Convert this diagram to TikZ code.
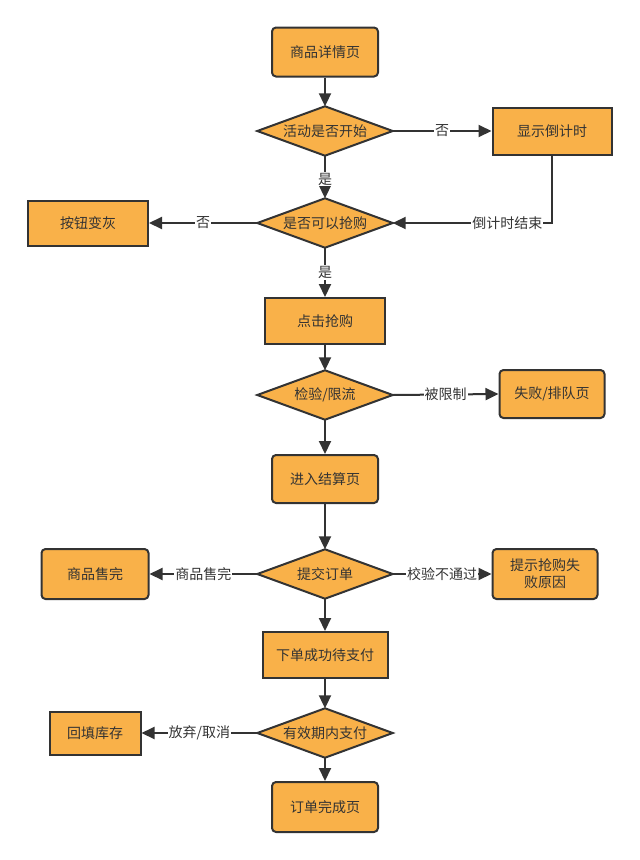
\documentclass[tikz,border=0pt]{standalone}
\usepackage{fontspec}
\setmainfont{Noto Sans CJK SC}
\usetikzlibrary{arrows.meta,backgrounds}
\definecolor{boxfill}{HTML}{F9B149}
\definecolor{ink}{HTML}{333333}
\tikzset{
  base/.style={fill=boxfill,draw=ink,line width=2pt,text=ink,font=\fontsize{14pt}{17pt}\selectfont,inner sep=2pt,align=center},
  rbox/.style={base,rounded corners=4pt},
  sbox/.style={base},
  dia/.style={inner sep=0pt,text=ink,font=\fontsize{14pt}{17pt}\selectfont,minimum width=135pt,minimum height=49pt},
  diashape/.style={fill=boxfill,draw=ink,line width=2pt,line join=miter},
  conn/.style={draw=ink,line width=2pt,-{Triangle[length=13pt,width=12pt]}},
  lbl/.style={fill=white,text=ink,font=\fontsize{14pt}{17pt}\selectfont,inner sep=1pt}
}
\begin{document}
\begin{tikzpicture}[x=1pt,y=-1pt]
\useasboundingbox (0,0) rectangle (640,860);
% boxes
\node[rbox,minimum width=106pt,minimum height=49pt] (n1) at (325,52) {商品详情页};
\node[sbox,minimum width=119pt,minimum height=47pt] (show) at (552,131) {显示倒计时};
\node[sbox,minimum width=120pt,minimum height=45pt] (gray) at (88,223) {按钮变灰};
\node[sbox,minimum width=120pt,minimum height=46pt] (click) at (325,321) {点击抢购};
\node[rbox,minimum width=105pt,minimum height=48pt] (fail) at (552,394) {失败/排队页};
\node[rbox,minimum width=106pt,minimum height=48pt] (settle) at (325,479) {进入结算页};
\node[rbox,minimum width=107pt,minimum height=50pt] (sold) at (95,574) {商品售完};
\node[rbox,minimum width=105pt,minimum height=50pt,text width=80pt,inner sep=0pt] (tip) at (545,574) {提示抢购失\\败原因};
\node[sbox,minimum width=125pt,minimum height=46pt] (pay) at (325,655) {下单成功待支付};
\node[sbox,minimum width=91pt,minimum height=43pt] (refill) at (95,733) {回填库存};
\node[rbox,minimum width=106pt,minimum height=50pt] (done) at (325,807) {订单完成页};
% diamonds
\node[dia] (d1) at (325,131) {活动是否开始};
\node[dia] (d2) at (325,223) {是否可以抢购};
\node[dia] (d3) at (325,395) {检验/限流};
\node[dia] (d4) at (325,574) {提交订单};
\node[dia] (d5) at (325,733) {有效期内支付};
\begin{scope}[on background layer]
\foreach \d in {d1,d2,d3,d4,d5}{
  \path[diashape] (\d.north) -- (\d.east) -- (\d.south) -- (\d.west) -- cycle;
}
\end{scope}
% connectors
\draw[conn] (n1) -- (d1);
\draw[conn] (d1.east) -- node[lbl]{否} (show.west);
\draw[conn] (d1.south) -- node[lbl,pos=0.55]{是} (d2.north);
\draw[conn] (show.south) |- node[lbl,pos=0.64]{倒计时结束} (d2.east);
\draw[conn] (d2.west) -- node[lbl]{否} (gray.east);
\draw[conn] (d2.south) -- node[lbl]{是} (click.north);
\draw[conn] (click) -- (d3.north);
\draw[conn] (d3.east) -- node[lbl]{被限制} (fail.west);
\draw[conn] (d3.south) -- (settle);
\draw[conn] (settle) -- (d4.north);
\draw[conn] (d4.west) -- node[lbl]{商品售完} (sold.east);
\draw[conn] (d4.east) -- node[lbl]{校验不通过} (tip.west);
\draw[conn] (d4.south) -- (pay);
\draw[conn] (pay) -- (d5.north);
\draw[conn] (d5.west) -- node[lbl]{放弃/取消} (refill.east);
\draw[conn] (d5.south) -- (done);
\end{tikzpicture}
\end{document}
